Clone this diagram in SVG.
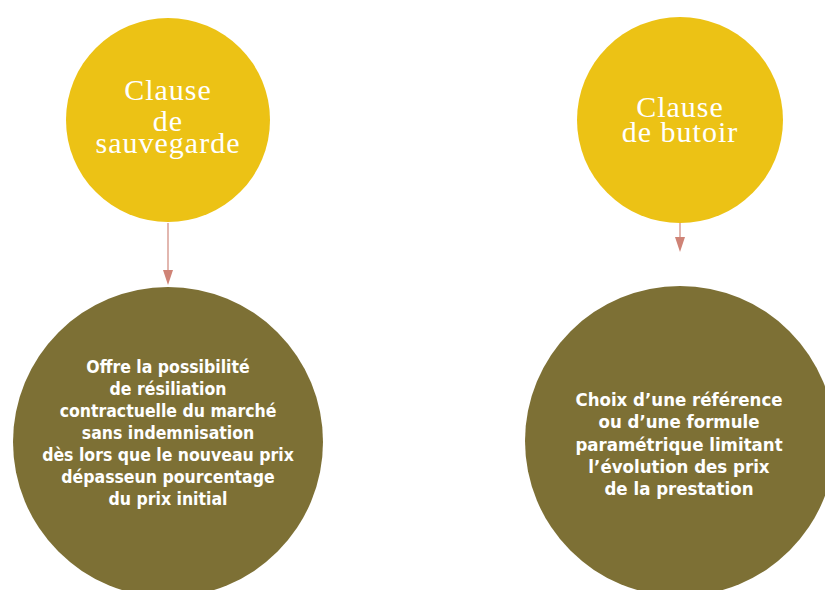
<svg xmlns="http://www.w3.org/2000/svg" width="825" height="590" viewBox="0 0 825 590">
  <defs>
    <style>
      .top { fill: #ECC215; }
      .bot { fill: #7D7035; }
      .ttl { font-family: "Liberation Serif", "DejaVu Serif", serif; font-size: 30px; fill: #FFFFFF; text-anchor: middle; letter-spacing: 1px; }
      .body { font-family: "DejaVu Sans", "Liberation Sans", sans-serif; font-weight: bold; fill: #FFFFFF; text-anchor: middle; }
      .bl { font-size: 17.5px; }
      .br { font-size: 18.5px; }
      .conn { stroke: #DBA59C; stroke-width: 1.6; fill: none; }
      .head { fill: #CF8376; }
    </style>
  </defs>
  <rect width="825" height="590" fill="#FFFFFF"/>
  <g id="connectors">
    <line class="conn" x1="168" y1="223" x2="168" y2="271"/>
    <polygon class="head" points="163,270 173,270 168,285"/>
    <line class="conn" x1="680" y1="223" x2="680" y2="238"/>
    <polygon class="head" points="675,237 685,237 680,252"/>
  </g>
  <g id="node-sauvegarde">
    <circle class="top" cx="168" cy="120" r="102"/>
    <text class="ttl" x="168" y="100">Clause</text>
    <text class="ttl" x="168" y="131">de</text>
    <text class="ttl" x="168" y="153">sauvegarde</text>
  </g>
  <g id="node-butoir">
    <circle class="top" cx="680" cy="120" r="103"/>
    <text class="ttl" x="680" y="117">Clause</text>
    <text class="ttl" x="680" y="142">de butoir</text>
  </g>
  <g id="node-sauvegarde-desc">
    <circle class="bot" cx="168" cy="442" r="155"/>
    <g transform="scale(0.9,1)">
      <text class="body bl" x="186.67" y="373">Offre la possibilité</text>
      <text class="body bl" x="186.67" y="395">de résiliation</text>
      <text class="body bl" x="186.67" y="417">contractuelle du marché</text>
      <text class="body bl" x="186.67" y="439">sans indemnisation</text>
      <text class="body bl" x="186.67" y="461">dès lors que le nouveau prix</text>
      <text class="body bl" x="186.67" y="483">dépasseun pourcentage</text>
      <text class="body bl" x="186.67" y="505">du prix initial</text>
    </g>
  </g>
  <g id="node-butoir-desc">
    <circle class="bot" cx="680" cy="441" r="155"/>
    <g transform="scale(0.9,1)">
      <text class="body br" x="754.44" y="406">Choix d’une référence</text>
      <text class="body br" x="754.44" y="428">ou d’une formule</text>
      <text class="body br" x="754.44" y="451">paramétrique limitant</text>
      <text class="body br" x="754.44" y="473">l’évolution des prix</text>
      <text class="body br" x="754.44" y="495">de la prestation</text>
    </g>
  </g>
</svg>
